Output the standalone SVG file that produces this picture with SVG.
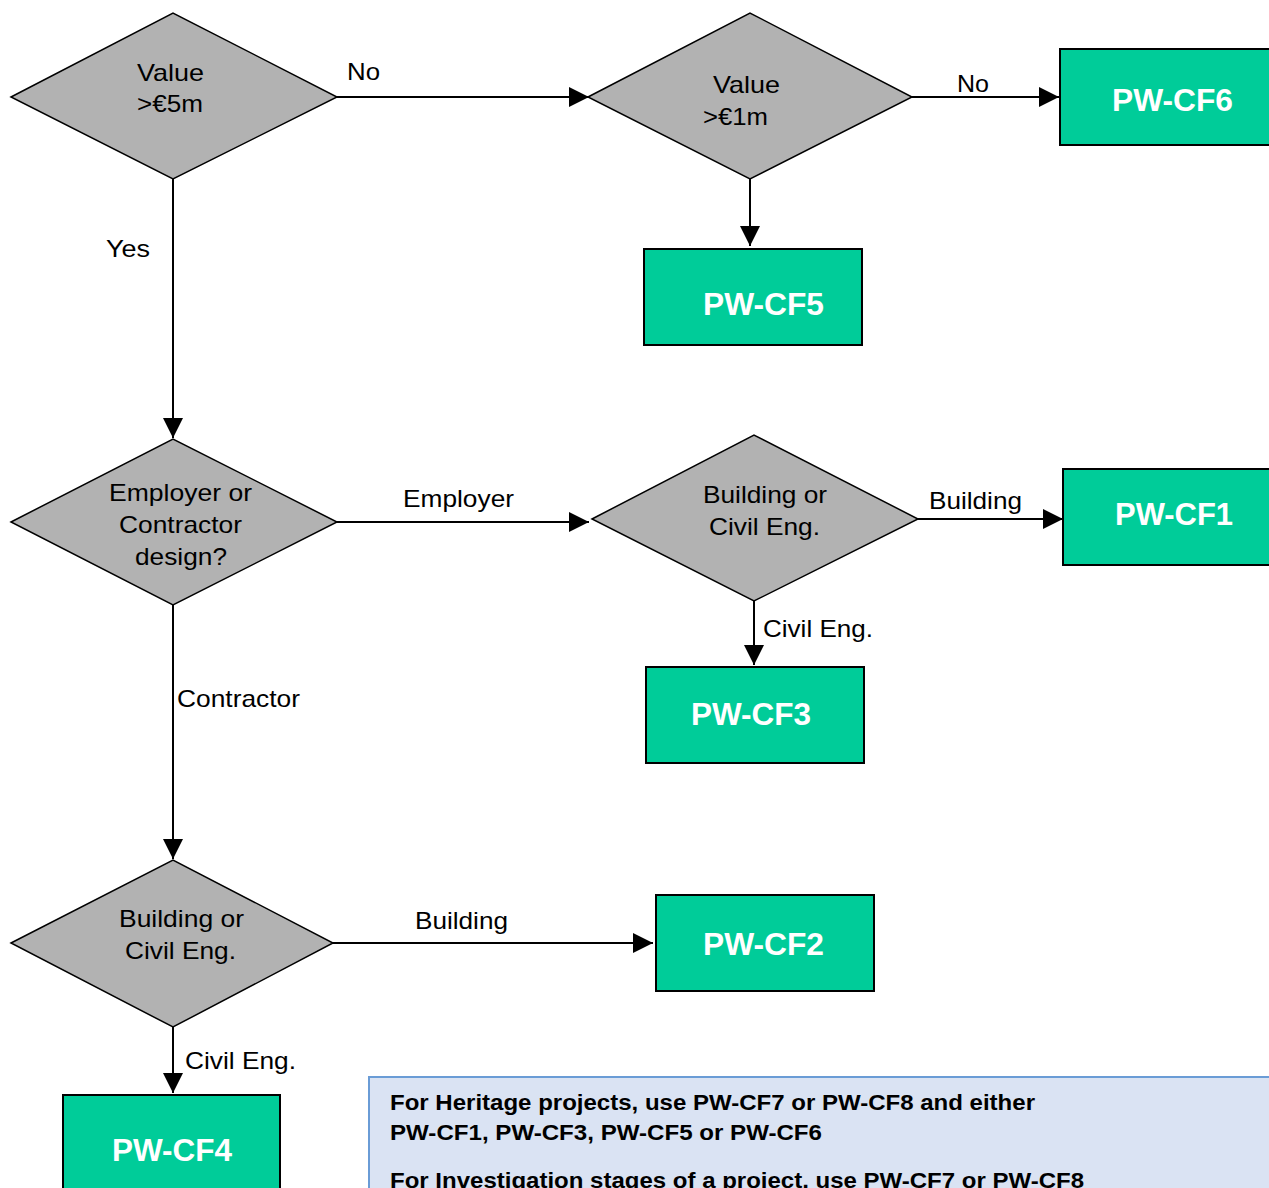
<svg xmlns="http://www.w3.org/2000/svg" width="1269" height="1188" viewBox="0 0 1269 1188">
<style>
.dia{fill:#b2b2b2;stroke:#000;stroke-width:1.5}
.box{fill:#00cc99;stroke:#000;stroke-width:2}
.t{font-family:"Liberation Sans",Arial,sans-serif;font-size:24px;fill:#000}
.bt{font-family:"Liberation Sans",Arial,sans-serif;font-size:31px;font-weight:bold;fill:#fff}
.nt{font-family:"Liberation Sans",Arial,sans-serif;font-size:22px;font-weight:bold;fill:#000}
.ln{stroke:#000;stroke-width:2;fill:none;marker-end:url(#ah)}
</style>
<defs>
<marker id="ah" markerUnits="userSpaceOnUse" markerWidth="22" markerHeight="20" refX="20" refY="10" orient="auto">
<path d="M0,0 L20,10 L0,20 z" fill="#000"/>
</marker>
</defs>
<rect width="1269" height="1188" fill="#fff"/>
<g id="connectors">
<line class="ln" x1="337" y1="97" x2="589" y2="97"/>
<line class="ln" x1="912" y1="97" x2="1059" y2="97"/>
<line class="ln" x1="750" y1="179" x2="750" y2="246"/>
<line class="ln" x1="173" y1="179" x2="173" y2="438"/>
<line class="ln" x1="337" y1="522" x2="589" y2="522"/>
<line class="ln" x1="918" y1="519" x2="1063" y2="519"/>
<line class="ln" x1="754" y1="601" x2="754" y2="665"/>
<line class="ln" x1="173" y1="605" x2="173" y2="859"/>
<line class="ln" x1="333" y1="943" x2="653" y2="943"/>
<line class="ln" x1="173" y1="1027" x2="173" y2="1093"/>
<text class="t" x="347" y="80" textLength="33" lengthAdjust="spacingAndGlyphs">No</text>
<text class="t" x="957" y="92" textLength="32" lengthAdjust="spacingAndGlyphs">No</text>
<text class="t" x="106" y="257" textLength="44" lengthAdjust="spacingAndGlyphs">Yes</text>
<text class="t" x="403" y="507" textLength="111" lengthAdjust="spacingAndGlyphs">Employer</text>
<text class="t" x="929" y="509" textLength="93" lengthAdjust="spacingAndGlyphs">Building</text>
<text class="t" x="763" y="637" textLength="110" lengthAdjust="spacingAndGlyphs">Civil Eng.</text>
<text class="t" x="177" y="707" textLength="123" lengthAdjust="spacingAndGlyphs">Contractor</text>
<text class="t" x="415" y="929" textLength="93" lengthAdjust="spacingAndGlyphs">Building</text>
<text class="t" x="185" y="1069" textLength="111" lengthAdjust="spacingAndGlyphs">Civil Eng.</text>
</g>
<g id="d-value5m">
<polygon class="dia" points="11,97 173,13 337,97 173,179"/>
<text class="t" x="137" y="81" textLength="67" lengthAdjust="spacingAndGlyphs">Value</text>
<text class="t" x="137" y="112" textLength="66" lengthAdjust="spacingAndGlyphs">&gt;€5m</text>
</g>
<g id="d-value1m">
<polygon class="dia" points="588,97 750,13 912,97 750,179"/>
<text class="t" x="713" y="93" textLength="67" lengthAdjust="spacingAndGlyphs">Value</text>
<text class="t" x="703" y="125" textLength="65" lengthAdjust="spacingAndGlyphs">&gt;€1m</text>
</g>
<g id="n-cf6">
<rect class="box" x="1060" y="49" width="214" height="96"/>
<text class="bt" x="1112" y="111" textLength="121" lengthAdjust="spacingAndGlyphs">PW-CF6</text>
</g>
<g id="n-cf5">
<rect class="box" x="644" y="249" width="218" height="96"/>
<text class="bt" x="703" y="315" textLength="121" lengthAdjust="spacingAndGlyphs">PW-CF5</text>
</g>
<g id="d-design">
<polygon class="dia" points="11,522 173,439 337,522 173,605"/>
<text class="t" x="109" y="501" textLength="143" lengthAdjust="spacingAndGlyphs">Employer or</text>
<text class="t" x="119" y="533" textLength="123" lengthAdjust="spacingAndGlyphs">Contractor</text>
<text class="t" x="135" y="565" textLength="92" lengthAdjust="spacingAndGlyphs">design?</text>
</g>
<g id="d-building1">
<polygon class="dia" points="592,519 754,435 918,519 754,601"/>
<text class="t" x="703" y="503" textLength="124" lengthAdjust="spacingAndGlyphs">Building or</text>
<text class="t" x="709" y="535" textLength="111" lengthAdjust="spacingAndGlyphs">Civil Eng.</text>
</g>
<g id="n-cf1">
<rect class="box" x="1063" y="469" width="211" height="96"/>
<text class="bt" x="1115" y="525" textLength="118" lengthAdjust="spacingAndGlyphs">PW-CF1</text>
</g>
<g id="n-cf3">
<rect class="box" x="646" y="667" width="218" height="96"/>
<text class="bt" x="691" y="725" textLength="120" lengthAdjust="spacingAndGlyphs">PW-CF3</text>
</g>
<g id="d-building2">
<polygon class="dia" points="11,943 173,860 333,943 173,1027"/>
<text class="t" x="119" y="927" textLength="125" lengthAdjust="spacingAndGlyphs">Building or</text>
<text class="t" x="125" y="959" textLength="111" lengthAdjust="spacingAndGlyphs">Civil Eng.</text>
</g>
<g id="n-cf2">
<rect class="box" x="656" y="895" width="218" height="96"/>
<text class="bt" x="703" y="955" textLength="121" lengthAdjust="spacingAndGlyphs">PW-CF2</text>
</g>
<g id="n-cf4">
<rect class="box" x="63" y="1095" width="217" height="100"/>
<text class="bt" x="112" y="1161" textLength="120" lengthAdjust="spacingAndGlyphs">PW-CF4</text>
</g>
<g id="note">
<rect x="369" y="1077" width="905" height="120" fill="#dae3f3" stroke="#6a9cd6" stroke-width="2"/>
<text class="nt" x="390" y="1110" textLength="645" lengthAdjust="spacingAndGlyphs">For Heritage projects, use PW-CF7 or PW-CF8 and either</text>
<text class="nt" x="390" y="1140" textLength="432" lengthAdjust="spacingAndGlyphs">PW-CF1, PW-CF3, PW-CF5 or PW-CF6</text>
<text class="nt" x="390" y="1188" textLength="694" lengthAdjust="spacingAndGlyphs">For Investigation stages of a project, use PW-CF7 or PW-CF8</text>
</g>
</svg>
